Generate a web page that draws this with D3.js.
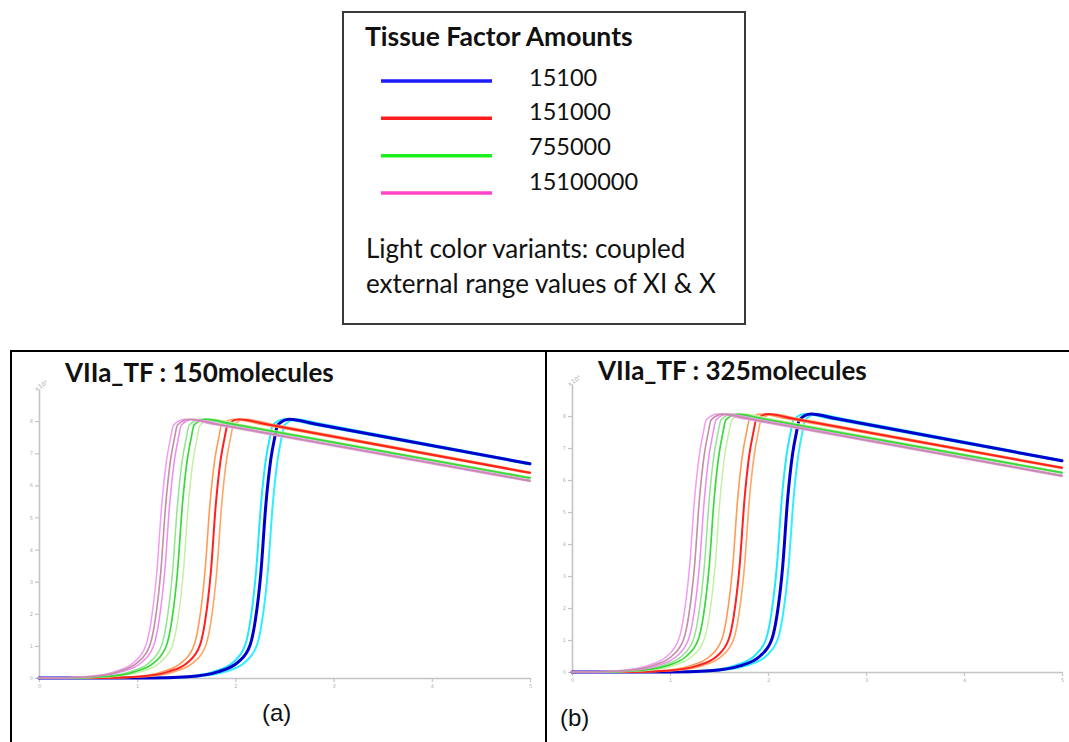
<!DOCTYPE html>
<html>
<head>
<meta charset="utf-8">
<script src="https://cdn.jsdelivr.net/npm/d3@7"></script>
<style>
  html, body { margin: 0; padding: 0; background: #fff; }
  svg { display: block; }
</style>
</head>
<body>
<svg id="fig" width="1069" height="742"></svg>
<script>
// ---- data -------------------------------------------------------------
const tfAmounts = ["15100", "151000", "755000", "15100000"];
const panelTitles = ["VIIa_TF : 150molecules", "VIIa_TF : 325molecules"];
const panelTags = ["(a)", "(b)"];
const legendTitle = "Tissue Factor Amounts";
const legendNote = ["Light color variants: coupled", "external range values of XI & X"];
const xTicks = [0, 1, 2, 3, 4, 5];
const yTicks = [0, 1, 2, 3, 4, 5, 6, 7, 8];
const yExponent = "\u00d710\u2074";

// levels (×10^4) at which the rising edge of each run is read
const riseLevels = [0, 0.04, 0.19, 0.5, 1.03, 1.74, 3.3, 5.39, 6.8, 7.48, 7.88, 8.06];

// each amount: [low coupled variant, nominal run, high coupled variant]
// rise = time at each rise level, tail = decay after the peak
const a15100 = [
  { rise: [1.06, 1.47, 1.77, 1.98, 2.10, 2.15, 2.21, 2.26, 2.31, 2.35, 2.38, 2.50], tail: [[2.75, 7.92], [5, 6.65]] },
  { rise: [1.11, 1.52, 1.82, 2.03, 2.15, 2.20, 2.26, 2.31, 2.36, 2.40, 2.43, 2.55], tail: [[2.80, 7.92], [5, 6.67]] },
  { rise: [1.18, 1.59, 1.89, 2.10, 2.22, 2.27, 2.33, 2.38, 2.43, 2.47, 2.50, 2.62], tail: [[2.87, 7.92], [5, 6.69]] }
];
const a151000 = [
  { rise: [0.54, 0.95, 1.25, 1.46, 1.58, 1.63, 1.69, 1.74, 1.79, 1.83, 1.86, 1.98], tail: [[2.23, 7.92], [5, 6.37]] },
  { rise: [0.60, 1.01, 1.31, 1.52, 1.64, 1.69, 1.75, 1.80, 1.85, 1.89, 1.92, 2.04], tail: [[2.29, 7.92], [5, 6.39]] },
  { rise: [0.66, 1.07, 1.37, 1.58, 1.70, 1.75, 1.81, 1.86, 1.91, 1.95, 1.98, 2.10], tail: [[2.35, 7.92], [5, 6.41]] }
];
const a755000 = [
  { rise: [0.21, 0.62, 0.92, 1.13, 1.25, 1.30, 1.36, 1.41, 1.46, 1.50, 1.53, 1.65], tail: [[1.90, 7.92], [5, 6.21]] },
  { rise: [0.26, 0.67, 0.97, 1.18, 1.30, 1.35, 1.41, 1.46, 1.51, 1.55, 1.58, 1.70], tail: [[1.95, 7.92], [5, 6.23]] },
  { rise: [0.32, 0.73, 1.03, 1.24, 1.36, 1.41, 1.47, 1.52, 1.57, 1.61, 1.64, 1.76], tail: [[2.01, 7.92], [5, 6.25]] }
];
const a15100000 = [
  { rise: [0.05, 0.46, 0.76, 0.97, 1.09, 1.14, 1.20, 1.25, 1.30, 1.34, 1.37, 1.49], tail: [[1.74, 7.92], [5, 6.12]] },
  { rise: [0.09, 0.50, 0.80, 1.01, 1.13, 1.18, 1.24, 1.29, 1.34, 1.38, 1.41, 1.53], tail: [[1.78, 7.92], [5, 6.14]] },
  { rise: [0.13, 0.54, 0.84, 1.05, 1.17, 1.22, 1.28, 1.33, 1.38, 1.42, 1.45, 1.57], tail: [[1.82, 7.92], [5, 6.16]] }
];
const b15100 = [
  { rise: [0.94, 1.35, 1.65, 1.86, 1.98, 2.03, 2.09, 2.14, 2.19, 2.23, 2.26, 2.38], tail: [[2.63, 7.92], [5, 6.58]] },
  { rise: [1.00, 1.41, 1.71, 1.92, 2.04, 2.09, 2.15, 2.20, 2.25, 2.29, 2.32, 2.44], tail: [[2.69, 7.92], [5, 6.60]] },
  { rise: [1.06, 1.47, 1.77, 1.98, 2.10, 2.15, 2.21, 2.26, 2.31, 2.35, 2.38, 2.50], tail: [[2.75, 7.92], [5, 6.62]] }
];
const b151000 = [
  { rise: [0.49, 0.90, 1.20, 1.41, 1.53, 1.58, 1.64, 1.69, 1.74, 1.78, 1.81, 1.93], tail: [[2.18, 7.92], [5, 6.36]] },
  { rise: [0.56, 0.97, 1.27, 1.48, 1.60, 1.65, 1.71, 1.76, 1.81, 1.85, 1.88, 2.00], tail: [[2.25, 7.92], [5, 6.38]] },
  { rise: [0.61, 1.02, 1.32, 1.53, 1.65, 1.70, 1.76, 1.81, 1.86, 1.90, 1.93, 2.05], tail: [[2.30, 7.92], [5, 6.40]] }
];
const b755000 = [
  { rise: [0.20, 0.61, 0.91, 1.12, 1.24, 1.29, 1.35, 1.40, 1.45, 1.49, 1.52, 1.64], tail: [[1.89, 7.92], [5, 6.21]] },
  { rise: [0.25, 0.66, 0.96, 1.17, 1.29, 1.34, 1.40, 1.45, 1.50, 1.54, 1.57, 1.69], tail: [[1.94, 7.92], [5, 6.23]] },
  { rise: [0.31, 0.72, 1.02, 1.23, 1.35, 1.40, 1.46, 1.51, 1.56, 1.60, 1.63, 1.75], tail: [[2.00, 7.92], [5, 6.25]] }
];
const b15100000 = [
  { rise: [0.05, 0.46, 0.76, 0.97, 1.09, 1.14, 1.20, 1.25, 1.30, 1.34, 1.37, 1.49], tail: [[1.74, 7.92], [5, 6.11]] },
  { rise: [0.10, 0.51, 0.81, 1.02, 1.14, 1.19, 1.25, 1.30, 1.35, 1.39, 1.42, 1.54], tail: [[1.79, 7.92], [5, 6.13]] },
  { rise: [0.15, 0.56, 0.86, 1.07, 1.19, 1.24, 1.30, 1.35, 1.40, 1.44, 1.47, 1.59], tail: [[1.84, 7.92], [5, 6.15]] }
];
const panelRuns = [
  [a15100, a151000, a755000, a15100000],
  [b15100, b151000, b755000, b15100000]
];

// ---- styles -----------------------------------------------------------
const legendColors = ["#1c1cff", "#ff1c1c", "#1cf01c", "#ff44cc"];
const runStyles = [
  { colors: ["#22e8ff", "#0000cc", "#30eeff"], widths: [2, 3, 2] },
  { colors: ["#ff9a55", "#ff2020", "#ffa566"], widths: [1.6, 2, 1.6] },
  { colors: ["#8fe68f", "#3ad83a", "#c4f0a4"], widths: [1.5, 1.7, 1.5] },
  { colors: ["#f39cf3", "#c08fa2", "#f08cf0"], widths: [1.5, 1.6, 1.5] }
];
const calibriLike = "Lato, 'Open Sans', sans-serif";

const svg = d3.select("#fig");
svg.append("rect").attr("width", 1069).attr("height", 742).attr("fill", "#fff");

// ---- legend box -------------------------------------------------------
const lg = svg.append("g");
lg.append("rect").attr("x", 343).attr("y", 12).attr("width", 402).attr("height", 312)
  .attr("fill", "none").attr("stroke", "#3a3a3a").attr("stroke-width", 2);
lg.append("text").attr("x", 365).attr("y", 46).text(legendTitle)
  .attr("font-family", calibriLike).attr("font-weight", 700).attr("font-size", 26.5).attr("fill", "#111");

const lineY = d3.scaleLinear().domain([0, 3]).range([81, 193]);
const labelY = d3.scaleLinear().domain([0, 3]).range([85.5, 190]);
tfAmounts.forEach((amt, i) => {
  lg.append("line").attr("x1", 381).attr("x2", 492).attr("y1", lineY(i)).attr("y2", lineY(i))
    .attr("stroke", legendColors[i]).attr("stroke-width", 3.5);
  lg.append("text").attr("x", 529).attr("y", labelY(i)).text(amt)
    .attr("font-family", calibriLike).attr("font-size", 23.5).attr("fill", "#111");
});
legendNote.forEach((t, i) => {
  lg.append("text").attr("x", 366).attr("y", 258 + i * 35).text(t)
    .attr("font-family", calibriLike).attr("font-size", 26).attr("fill", "#111");
});

// ---- panel frame ------------------------------------------------------
const frame = svg.append("g").attr("fill", "none").attr("stroke", "#000").attr("stroke-width", 2);
frame.append("path").attr("d", "M11,760 V351 H1075");
frame.append("line").attr("x1", 546).attr("x2", 546).attr("y1", 351).attr("y2", 760);

// ---- panels -----------------------------------------------------------
const panels = [
  { x0: 39, x1: 530, y0: 678, yTop: 389, titleX: 65, titleY: 382, tagX: 262, tagY: 721 },
  { x0: 572, x1: 1062, y0: 672, yTop: 384, titleX: 598, titleY: 380, tagX: 560, tagY: 726 }
];

panels.forEach((p, pi) => {
  const g = svg.append("g");
  const x = d3.scaleLinear().domain([0, 5]).range([p.x0, p.x1]);
  const y = d3.scaleLinear().domain([0, 9]).range([p.y0, p.yTop]);

  // axes
  const xa = g.append("g").attr("transform", `translate(0,${p.y0})`)
    .call(d3.axisBottom(x).tickValues(xTicks).tickFormat(d3.format("d"))
      .tickSize(4).tickSizeOuter(0).tickPadding(2));
  const ya = g.append("g").attr("transform", `translate(${p.x0},0)`)
    .call(d3.axisLeft(y).tickValues(yTicks).tickFormat(d3.format("d"))
      .tickSize(4).tickSizeOuter(0).tickPadding(2));
  [xa, ya].forEach(a => {
    a.select(".domain").attr("stroke", "#c4c4c4").attr("stroke-width", 1.6);
    a.selectAll(".tick line").attr("stroke", "#c4c4c4").attr("stroke-width", 1.2);
    a.selectAll(".tick text").attr("fill", "#b0b0b0").attr("font-size", 5)
      .attr("font-family", "'DejaVu Sans', sans-serif");
  });
  g.append("text").attr("x", p.x0 - 3).attr("y", y(9) + 3).text(yExponent)
    .attr("font-size", 6).attr("fill", "#b0b0b0").attr("font-family", "'DejaVu Sans', sans-serif")
    .attr("transform", `rotate(-35, ${p.x0 - 3}, ${y(9) + 3})`);

  // runs
  const line = d3.line().x(d => x(d[0])).y(d => y(d[1])).curve(d3.curveMonotoneX);
  panelRuns[pi].forEach((runs, gi) => {
    const st = runStyles[gi];
    [0, 2, 1].forEach(ri => {
      const r = runs[ri];
      const pts = [[0, 0]].concat(r.rise.map((t, k) => [t, riseLevels[k]]), r.tail);
      g.append("path").attr("d", line(pts)).attr("fill", "none")
        .attr("stroke", st.colors[ri]).attr("stroke-width", st.widths[ri])
        .attr("stroke-linejoin", "round").attr("stroke-linecap", "round");
    });
  });

  // title and tag
  g.append("text").attr("x", p.titleX).attr("y", p.titleY).text(panelTitles[pi])
    .attr("font-family", calibriLike).attr("font-weight", 700).attr("font-size", 26).attr("fill", "#111");
  g.append("text").attr("x", p.tagX).attr("y", p.tagY).text(panelTags[pi])
    .attr("font-family", "'Liberation Sans', Arial, sans-serif").attr("font-size", 24).attr("fill", "#111");
});
</script>
</body>
</html>
